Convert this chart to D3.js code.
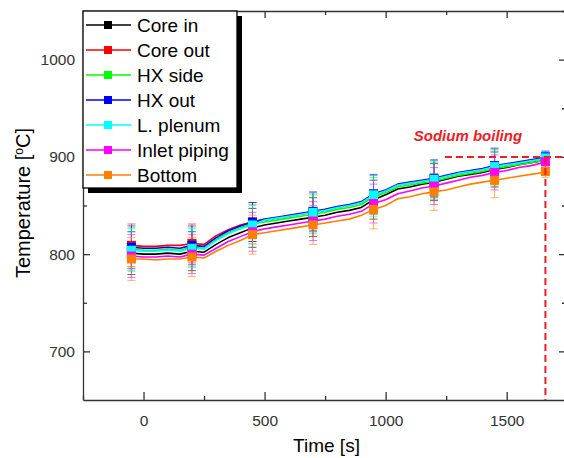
<!DOCTYPE html>
<html>
<head>
<meta charset="utf-8">
<script src="https://cdn.jsdelivr.net/npm/d3@7"></script>
<style>
  body { margin: 0; background: #fff; overflow: hidden; }
  svg { display: block; overflow: hidden; }
  svg text { font-family: "Liberation Sans", Arial, sans-serif; }
</style>
</head>
<body>
<div id="chart"></div>
<script>
// time axis of the readings [s]
const times = [-50, 0, 50, 100, 150, 200, 250, 300, 350, 400, 450, 500, 550, 600, 650, 700, 750, 800,
  850, 900, 950, 1000, 1050, 1100, 1150, 1200, 1250, 1300, 1350, 1400, 1450, 1500, 1550, 1600, 1650, 1660];

const coreIn = [801, 800, 800, 801, 800, 803, 802, 810, 817, 822, 827, 830, 832, 834, 836, 838, 840, 843,
  845, 848, 856, 861, 867, 869, 872, 874, 877, 880, 882, 884, 887, 889, 892, 894, 896, 897];
const coreOut = [809, 808, 808, 809, 809, 811, 810, 819, 825, 830, 833, 835, 837, 839, 841, 843, 845, 848,
  850, 853, 861, 865, 871, 873, 875, 877, 880, 883, 885, 887, 890, 892, 894, 896, 898, 899];
const hxSide = [805, 804, 804, 805, 804, 807, 806, 815, 822, 827, 831, 833, 835, 837, 839, 841, 843, 846,
  848, 851, 859, 863, 869, 871, 873, 875, 878, 881, 883, 885, 888, 890, 892, 894, 896, 897];
const hxOut = [807, 806, 806, 807, 806, 809, 808, 817, 824, 829, 833, 836, 838, 840, 842, 844, 846, 849,
  851, 854, 862, 866, 872, 874, 876, 878, 881, 884, 886, 888, 891, 893, 895, 897, 899, 900];
const lPlenum = [804, 803, 803, 804, 803, 806, 805, 814, 821, 826, 830, 835, 837, 839, 841, 843, 845, 848,
  850, 853, 861, 865, 871, 873, 875, 877, 880, 883, 885, 887, 890, 892, 894, 896, 898, 899];
const inletPiping = [798, 797, 797, 798, 797, 800, 799, 806, 813, 818, 823, 826, 828, 830, 832, 834, 836, 839,
  841, 844, 852, 856, 862, 865, 868, 870, 873, 876, 879, 881, 884, 886, 889, 891, 894, 895];
const bottom = [795, 795, 794, 795, 795, 797, 796, 803, 809, 814, 820, 822, 824, 826, 828, 830, 832, 834,
  836, 840, 846, 850, 857, 859, 862, 864, 866, 869, 872, 874, 876, 878, 880, 882, 884, 885];

const seriesNames = ['Core in', 'Core out', 'HX side', 'HX out', 'L. plenum', 'Inlet piping', 'Bottom'];
const seriesValues = [coreIn, coreOut, hxSide, hxOut, lPlenum, inletPiping, bottom];
const seriesColors = ['#000000', '#ff0000', '#00ff00', '#0000ff', '#00ffff', '#ff00ff', '#ff8000'];

// times with a marker and error bar, and the error half-width there
const markerTimes = [-50, 200, 450, 700, 950, 1200, 1450, 1660];
const markerErrors = [22, 20, 20, 20, 20, 19, 18, 6];

const xTicks = [0, 500, 1000, 1500];
const yTicks = [700, 800, 900, 1000];

const boilingTime = 1660, boilingTemp = 900, boilingLineStart = 1245;

let width = 564, height = 458,
    margin = {left: 83, top: 11, right: -2, bottom: 58},
    plotW = width - margin.left - margin.right,
    plotH = height - margin.top - margin.bottom;

let svg = d3.select('#chart').append('svg')
    .attr('width', width)
    .attr('height', height);

let x = d3.scaleLinear().domain([-250, 1745]).range([0, plotW]);
let y = d3.scaleLinear().domain([650, 1050]).range([plotH, 0]);

let g = svg.append('g')
    .attr('transform', `translate(${margin.left}, ${margin.top})`);

// frame axes, ticks pointing inward
const axisColor = '#333';
function styleAxis(sel) {
    sel.select('.domain').attr('stroke', axisColor).attr('stroke-width', 1.3);
    sel.selectAll('.tick line').attr('stroke', axisColor).attr('stroke-width', 1.3);
    sel.selectAll('.tick text').attr('fill', '#333').style('font-size', '15.5px')
        .style('font-family', '"Liberation Sans", Arial, sans-serif');
}
const xMinor = [-250, 250, 750, 1250, 1750];
const yMinor = [750, 850, 950, 1050];

g.append('g').attr('transform', `translate(0, ${plotH})`)
    .call(d3.axisBottom(x).tickValues(xMinor).tickSize(-4).tickFormat(''))
    .call(s => s.select('.domain').remove())
    .selectAll('line').attr('stroke', axisColor).attr('stroke-width', 1.3);
g.append('g').attr('transform', `translate(0, ${plotH})`)
    .call(d3.axisBottom(x).tickValues(xTicks).tickSizeInner(-8).tickSizeOuter(0).tickPadding(15).tickFormat(d3.format('d')))
    .call(styleAxis);
g.append('g')
    .call(d3.axisTop(x).tickValues(xMinor).tickSize(-4).tickFormat(''))
    .call(s => s.select('.domain').remove())
    .selectAll('line').attr('stroke', axisColor).attr('stroke-width', 1.3);
g.append('g')
    .call(d3.axisTop(x).tickValues(xTicks).tickSizeInner(-7).tickSizeOuter(0).tickFormat(''))
    .call(styleAxis);

g.append('g')
    .call(d3.axisLeft(y).tickValues(yMinor).tickSize(-4).tickFormat(''))
    .call(s => s.select('.domain').remove())
    .selectAll('line').attr('stroke', axisColor).attr('stroke-width', 1.3);
g.append('g')
    .call(d3.axisLeft(y).tickValues(yTicks).tickSizeInner(-7).tickSizeOuter(0).tickPadding(8).tickFormat(d3.format('d')))
    .call(styleAxis);
g.append('g').attr('transform', `translate(${plotW}, 0)`)
    .call(d3.axisRight(y).tickValues(yMinor).tickSize(-4).tickFormat(''))
    .call(s => s.select('.domain').remove())
    .selectAll('line').attr('stroke', axisColor).attr('stroke-width', 1.3);
g.append('g').attr('transform', `translate(${plotW}, 0)`)
    .call(d3.axisRight(y).tickValues(yTicks).tickSizeInner(-7).tickSizeOuter(0).tickFormat(''))
    .call(styleAxis);

// error bars first, so lines and markers sit on top
let errG = g.append('g').attr('class', 'errors');
seriesValues.forEach((vals, si) => {
    markerTimes.forEach((t, mi) => {
        let v = vals[times.indexOf(t)], e = markerErrors[mi], cx = x(t);
        let eg = errG.append('g').attr('stroke', seriesColors[si]).attr('stroke-opacity', 0.6).attr('stroke-width', 1);
        eg.append('line').attr('x1', cx).attr('x2', cx).attr('y1', y(v - e)).attr('y2', y(v + e));
        eg.append('line').attr('x1', cx - 4).attr('x2', cx + 4).attr('y1', y(v - e)).attr('y2', y(v - e));
        eg.append('line').attr('x1', cx - 4).attr('x2', cx + 4).attr('y1', y(v + e)).attr('y2', y(v + e));
    });
});

let line = d3.line()
    .x((d, i) => x(times[i]))
    .y(d => y(d));

seriesValues.forEach((vals, si) => {
    g.append('path')
        .datum(vals)
        .attr('fill', 'none')
        .attr('stroke', seriesColors[si])
        .attr('stroke-width', 1.6)
        .attr('stroke-linejoin', 'round')
        .attr('d', line);
});

seriesValues.forEach((vals, si) => {
    g.append('g').selectAll('rect')
        .data(markerTimes)
        .join('rect')
        .attr('x', t => x(t) - 4.5)
        .attr('y', t => y(vals[times.indexOf(t)]) - 4.5)
        .attr('width', 9)
        .attr('height', 9)
        .attr('fill', seriesColors[si]);
});

// sodium boiling markers
const boilColor = '#ee1c25';
g.append('line')
    .attr('x1', x(boilingLineStart)).attr('x2', plotW)
    .attr('y1', y(boilingTemp)).attr('y2', y(boilingTemp))
    .attr('stroke', boilColor).attr('stroke-width', 2).attr('stroke-dasharray', '7,4');
g.append('line')
    .attr('x1', x(boilingTime)).attr('x2', x(boilingTime))
    .attr('y1', y(boilingTemp)).attr('y2', plotH)
    .attr('stroke', boilColor).attr('stroke-width', 2).attr('stroke-dasharray', '7,4');
g.append('text')
    .attr('x', x(1340)).attr('y', y(900) - 16)
    .attr('text-anchor', 'middle')
    .attr('fill', boilColor)
    .style('font-size', '15px').style('font-weight', 'bold').style('font-style', 'italic')
    .text('Sodium boiling');

// legend with drop shadow
let legend = g.append('g');
legend.append('rect').attr('x', 5).attr('y', 5).attr('width', 154).attr('height', 177).attr('fill', '#000');
legend.append('rect').attr('x', 0).attr('y', 0).attr('width', 154).attr('height', 177)
    .attr('fill', '#fff').attr('stroke', '#000').attr('stroke-width', 1.3);
seriesNames.forEach((name, i) => {
    let ly = 14 + i * 25;
    legend.append('line').attr('x1', 3).attr('x2', 48).attr('y1', ly).attr('y2', ly)
        .attr('stroke', seriesColors[i]).attr('stroke-width', 1.6);
    legend.append('rect').attr('x', 21).attr('y', ly - 4).attr('width', 8).attr('height', 8)
        .attr('fill', seriesColors[i]);
    legend.append('text').attr('x', 54).attr('y', ly + 7)
        .attr('fill', '#000').style('font-size', '19px').text(name);
});

// axis titles
svg.append('text')
    .attr('x', margin.left + plotW / 2 + 2).attr('y', 452)
    .attr('text-anchor', 'middle').style('font-size', '19px').attr('fill', '#000')
    .text('Time [s]');
let yl = svg.append('text')
    .attr('transform', 'translate(30, 203) rotate(-90)')
    .attr('text-anchor', 'middle').style('font-size', '20px').attr('fill', '#000');
yl.append('tspan').text('Temperature [');
yl.append('tspan').attr('dy', -7).style('font-size', '12px').text('o');
yl.append('tspan').attr('dy', 7).text('C]');
</script>
</body>
</html>
